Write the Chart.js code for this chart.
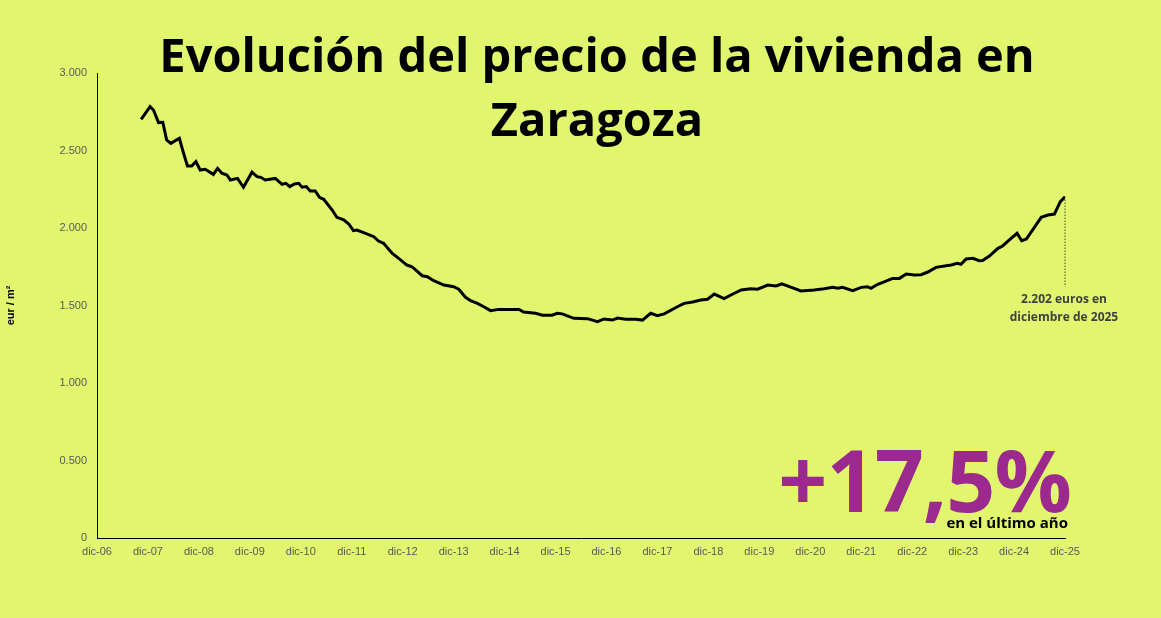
<!DOCTYPE html>
<html>
<head>
<meta charset="utf-8">
<script src="https://cdn.jsdelivr.net/npm/chart.js@4"></script>
<style>
  html, body { margin: 0; padding: 0; background: #e2f56e; }
  #wrap { position: relative; width: 1161px; height: 618px; }
  #title { position: absolute; left: 0; top: 22px; width: 1194px; text-align: center;
    font: bold 47px "Open Sans", sans-serif; line-height: 64px; color: #000; }
  #big { position: absolute; right: 90px; top: 420px; font: bold 86px "Open Sans", sans-serif; color: #9c2a8e; letter-spacing: -1px; }
  #sub { position: absolute; right: 93px; top: 512px; font: bold 15px "Open Sans", sans-serif; color: #000; }
  #note { position: absolute; left: 994px; top: 290px; width: 140px; text-align: center;
    font: bold 12px "Open Sans", sans-serif; line-height: 18px; color: #404040; }
</style>
</head>
<body>
<div id="wrap">
  <canvas id="chart" width="1161" height="618"></canvas>
  <div id="title">Evolución del precio de la vivienda en<br>Zaragoza</div>
  <div id="big">+17,5%</div>
  <div id="sub">en el último año</div>
  <div id="note">2.202 euros en<br>diciembre de 2025</div>
</div>
<script>
/* --------------- Data: months since dic-06 and price (eur/m2) --------------------- */
const months = [10.4, 12.5, 13.3, 14.5, 15.5, 16.4, 17.4, 19.4, 20.4, 21.3, 22.3, 23.3, 24.3, 25.5, 27.4, 28.4, 29.4, 30.6, 31.4, 33.1, 34.5, 36.5, 37.7, 38.6, 39.6, 42.0, 43.6, 44.5, 45.4, 46.5, 47.5, 48.3, 49.3, 50.2, 51.4, 52.4, 53.4, 55.4, 56.5, 58.1, 59.3, 60.4, 61.2, 62.8, 65.2, 66.3, 67.5, 69.5, 71.5, 73.0, 74.2, 76.6, 77.8, 79.3, 81.7, 84.0, 85.2, 86.8, 88.0, 89.6, 91.1, 92.7, 94.6, 99.4, 100.5, 103.3, 104.9, 107.2, 108.4, 109.6, 112.3, 115.5, 117.9, 119.4, 121.4, 122.6, 124.5, 126.9, 128.5, 130.4, 132.0, 133.6, 136.7, 138.3, 140.3, 142.2, 143.8, 145.4, 147.7, 149.3, 151.7, 154.0, 155.6, 158.0, 159.9, 161.3, 163.4, 165.8, 168.9, 171.3, 173.3, 174.5, 175.6, 178.0, 180.0, 181.5, 182.3, 183.9, 185.4, 187.4, 189.0, 190.6, 192.5, 194.1, 195.7, 197.6, 200.0, 201.2, 202.6, 203.5, 204.7, 206.3, 207.8, 208.6, 210.2, 212.2, 213.3, 214.9, 216.7, 217.8, 218.9, 222.4, 224.0, 225.5, 226.9, 228];
const prices = [2701, 2783, 2761, 2680, 2682, 2568, 2546, 2579, 2482, 2400, 2400, 2428, 2374, 2379, 2346, 2385, 2353, 2342, 2310, 2320, 2263, 2360, 2331, 2327, 2310, 2320, 2282, 2288, 2267, 2284, 2288, 2263, 2267, 2239, 2239, 2198, 2185, 2116, 2069, 2052, 2026, 1983, 1987, 1970, 1944, 1916, 1901, 1837, 1794, 1761, 1750, 1692, 1686, 1660, 1632, 1621, 1605, 1553, 1531, 1514, 1492, 1467, 1475, 1475, 1458, 1450, 1437, 1437, 1450, 1446, 1417, 1415, 1396, 1413, 1406, 1419, 1411, 1411, 1406, 1450, 1434, 1446, 1492, 1514, 1523, 1536, 1540, 1574, 1544, 1568, 1600, 1608, 1605, 1632, 1626, 1639, 1618, 1594, 1600, 1608, 1617, 1611, 1617, 1596, 1617, 1621, 1611, 1637, 1652, 1675, 1675, 1703, 1697, 1699, 1716, 1746, 1757, 1761, 1772, 1766, 1800, 1804, 1789, 1790, 1819, 1869, 1884, 1923, 1966, 1918, 1929, 2069, 2084, 2090, 2170, 2202];
const tickYears = ["06", "07", "08", "09", "10", "11", "12", "13", "14", "15", "16", "17", "18", "19", "20", "21", "22", "23", "24", "25"];
const yTicks = [0, 500, 1000, 1500, 2000, 2500, 3000];

const points = months.map((m, i) => ({ x: m, y: prices[i] }));

/* --------------- Dotted line from last point down to the note --------------------- */
const lastLine = {
  id: "lastLine",
  afterDatasetsDraw(chart) {
    const meta = chart.getDatasetMeta(0);
    const p = meta.data[meta.data.length - 1];
    const ctx = chart.ctx;
    ctx.save();
    ctx.strokeStyle = "#000";
    ctx.lineWidth = 1;
    ctx.setLineDash([1, 2]);
    ctx.beginPath();
    ctx.moveTo(p.x, p.y);
    ctx.lineTo(p.x, 287);
    ctx.stroke();
    ctx.restore();
  }
};

new Chart(document.getElementById("chart"), {
  type: "line",
  plugins: [lastLine],
  data: {
    datasets: [{
      data: points,
      borderColor: "#000",
      borderWidth: 3,
      pointRadius: 0,
      tension: 0
    }]
  },
  options: {
    responsive: false,
    animation: false,
    layout: { padding: { top: 73, right: 96, left: 0, bottom: 0 } },
    plugins: { legend: { display: false }, tooltip: { enabled: false } },
    scales: {
      x: {
        type: "linear",
        min: 0, max: 228,
        afterBuildTicks: s => { s.ticks = tickYears.map((_, i) => ({ value: i * 12 })); },
        afterFit: s => { s.height = 80; },
        grid: { display: false, drawTicks: true, tickLength: 4, tickColor: "#000" },
        border: { color: "#000", width: 1 },
        ticks: {
          autoSkip: false, maxRotation: 0,
          color: "#595959", font: { family: "Liberation Sans", size: 11 },
          callback: v => "dic-" + tickYears[Math.round(v / 12)]
        }
      },
      y: {
        min: 0, max: 3000,
        afterBuildTicks: s => { s.ticks = yTicks.map(v => ({ value: v })); },
        afterFit: s => { s.width = 97; },
        grid: { display: false, drawTicks: false },
        border: { color: "#000", width: 1 },
        title: { display: true, text: "eur / m²", color: "#000", font: { family: "Liberation Sans", size: 11, weight: "bold" }, padding: { bottom: 12 } },
        ticks: {
          color: "#595959", font: { family: "Liberation Sans", size: 11 }, padding: 10,
          callback: v => v.toLocaleString("de-DE", { minimumFractionDigits: 3 }).replace(",000", "") === "0" ? "0" : (v / 1000).toFixed(3)
        }
      }
    }
  }
});
</script>
</body>
</html>
